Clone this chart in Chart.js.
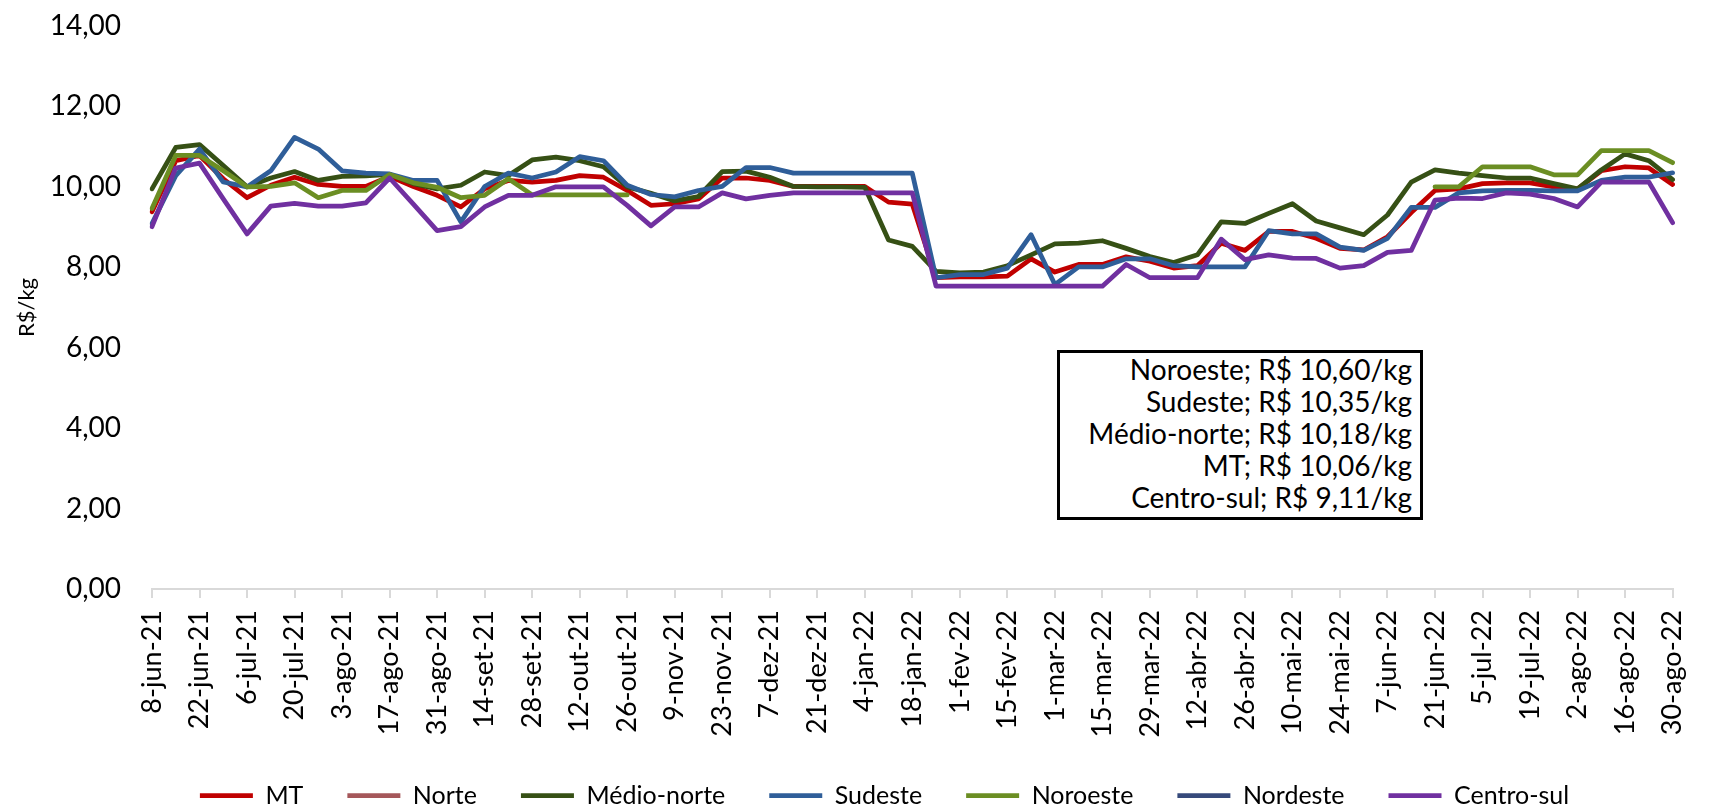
<!DOCTYPE html>
<html>
<head>
<meta charset="utf-8">
<script src="https://cdn.jsdelivr.net/npm/chart.js@4.4.1/dist/chart.umd.min.js"></script>
<style>
  body { margin: 0; background: #fff; }
  #wrap { position: relative; width: 1717px; height: 806px; }
  #note {
    position: absolute; left: 1057px; top: 350px; width: 366px; height: 170px;
    box-sizing: border-box; border: 3px solid #000; background: #fff;
    font-family: Lato, sans-serif; font-size: 28px; line-height: 32px;
    text-align: right; padding: 0 8px 0 0; color: #000; white-space: nowrap;
  }
</style>
</head>
<body>
<div id="wrap">
  <canvas id="chart" width="1717" height="806"></canvas>
  <div id="note">
    Noroeste; R$ 10,60/kg<br>
    Sudeste; R$ 10,35/kg<br>
    Médio-norte; R$ 10,18/kg<br>
    MT; R$ 10,06/kg<br>
    Centro-sul; R$ 9,11/kg
  </div>
</div>
<script>
// weekly prices, R$/kg
const labels = ['8-jun-21','15-jun-21','22-jun-21','29-jun-21','6-jul-21','13-jul-21','20-jul-21','27-jul-21','3-ago-21','10-ago-21',
  '17-ago-21','24-ago-21','31-ago-21','7-set-21','14-set-21','21-set-21','28-set-21','5-out-21','12-out-21','19-out-21',
  '26-out-21','2-nov-21','9-nov-21','16-nov-21','23-nov-21','30-nov-21','7-dez-21','14-dez-21','21-dez-21','28-dez-21',
  '4-jan-22','11-jan-22','18-jan-22','25-jan-22','1-fev-22','8-fev-22','15-fev-22','22-fev-22','1-mar-22','8-mar-22',
  '15-mar-22','22-mar-22','29-mar-22','5-abr-22','12-abr-22','19-abr-22','26-abr-22','3-mai-22','10-mai-22','17-mai-22',
  '24-mai-22','31-mai-22','7-jun-22','14-jun-22','21-jun-22','28-jun-22','5-jul-22','12-jul-22','19-jul-22','26-jul-22',
  '2-ago-22','9-ago-22','16-ago-22','23-ago-22','30-ago-22'];

const mt = [9.38,10.65,10.78,10.20,9.73,10.04,10.24,10.06,10.01,10.01,
  10.26,10.01,9.79,9.50,9.95,10.16,10.12,10.16,10.28,10.24,
  9.91,9.54,9.58,9.70,10.22,10.22,10.16,10.01,10.01,10.01,
  10.01,9.62,9.57,7.74,7.76,7.76,7.78,8.21,7.88,8.07,
  8.07,8.26,8.15,7.98,8.04,8.60,8.42,8.89,8.89,8.72,
  8.47,8.43,8.76,9.36,9.91,9.95,10.08,10.10,10.10,10.00,
  9.95,10.40,10.50,10.47,10.06];

const norte = [];

const medioNorte = [9.95,10.98,11.05,10.53,10.00,10.22,10.38,10.16,10.26,10.27,
  10.31,10.08,9.95,10.04,10.37,10.28,10.67,10.74,10.65,10.50,
  10.00,9.84,9.65,9.76,10.38,10.39,10.24,10.01,10.00,10.00,
  9.99,8.68,8.52,7.90,7.86,7.88,8.04,8.31,8.58,8.60,
  8.66,8.47,8.27,8.12,8.31,9.13,9.09,9.34,9.58,9.15,
  8.98,8.81,9.30,10.12,10.42,10.34,10.28,10.22,10.22,10.08,
  9.95,10.42,10.82,10.65,10.18];

const sudeste = [9.09,10.28,10.94,10.12,10.00,10.40,11.23,10.94,10.40,10.34,
  10.32,10.16,10.16,9.13,10.01,10.34,10.22,10.37,10.75,10.65,
  10.04,9.81,9.75,9.91,10.01,10.48,10.48,10.34,10.34,10.34,
  10.34,10.34,10.34,7.74,7.82,7.82,7.98,8.81,7.57,8.01,
  8.01,8.21,8.21,8.04,8.01,8.01,8.01,8.91,8.83,8.83,
  8.50,8.42,8.72,9.49,9.49,9.85,9.90,9.91,9.91,9.90,
  9.90,10.16,10.24,10.24,10.35];

const noroeste = [9.46,10.78,10.78,10.40,10.00,10.01,10.10,9.73,9.91,9.91,
  10.31,10.10,9.99,9.73,9.79,10.20,9.80,9.80,9.80,9.80,
  9.80,null,null,null,null,null,null,null,null,null,
  null,null,null,null,null,null,null,null,null,null,
  null,null,null,null,null,null,null,null,null,null,
  null,null,null,null,10.00,10.00,10.50,10.50,10.50,10.30,
  10.30,10.90,10.90,10.90,10.60];

const nordeste = [];

const centroSul = [9.01,10.47,10.59,9.70,8.83,9.52,9.59,9.52,9.52,9.60,
  10.22,9.57,8.91,9.01,9.50,9.79,9.79,10.00,10.00,10.00,
  9.54,9.03,9.50,9.50,9.85,9.70,9.79,9.85,9.85,9.85,
  9.85,9.85,9.85,7.53,7.53,7.53,7.53,7.53,7.53,7.53,
  7.53,8.07,7.74,7.74,7.74,8.70,8.19,8.31,8.23,8.22,
  7.98,8.04,8.37,8.42,9.67,9.72,9.71,9.85,9.82,9.71,
  9.50,10.12,10.12,10.12,9.11];

const seriesNames = ['MT', 'Norte', 'Médio-norte', 'Sudeste', 'Noroeste', 'Nordeste', 'Centro-sul'];
const seriesData = [mt, norte, medioNorte, sudeste, noroeste, nordeste, centroSul];
const seriesColors = ['#C00000', '#A5575A', '#365015', '#2F5E99', '#6B8E23', '#364A7B', '#7030A0'];

const FONT = 'Lato, sans-serif';

// excel draws later series on top
const datasets = seriesNames.map((name, i) => ({
  label: name,
  data: seriesData[i],
  borderColor: seriesColors[i],
  backgroundColor: seriesColors[i],
  borderWidth: 4.75,
  borderCapStyle: 'round',
  borderJoinStyle: 'round',
  pointRadius: 0,
  tension: 0,
  order: seriesNames.length - i
}));

// legend in the original sits a bit right of the canvas centre
const legendShift = {
  id: 'legendShift',
  afterLayout(chart) {
    chart.legend.left += 36;
    chart.legend.right += 36;
  }
};

new Chart(document.getElementById('chart'), {
  type: 'line',
  data: { labels: labels, datasets: datasets },
  plugins: [legendShift],
  options: {
    responsive: false,
    animation: false,
    devicePixelRatio: 1,
    layout: { padding: { top: 26, right: 20, left: 0, bottom: -12 } },
    plugins: {
      tooltip: { enabled: false },
      legend: {
        position: 'bottom',
        labels: {
          font: { family: FONT, size: 25 },
          color: '#000',
          usePointStyle: true,
          pointStyle: 'line',
          pointStyleWidth: 53,
          padding: 44,
          sort: (a, b) => a.datasetIndex - b.datasetIndex
        }
      }
    },
    scales: {
      x: {
        grid: {
          drawOnChartArea: false,
          drawTicks: true,
          tickLength: 9,
          lineWidth: 2,
          color: ctx => (ctx.index % 2 === 0 ? '#D9D9D9' : 'rgba(0,0,0,0)')
        },
        border: { color: '#D9D9D9', width: 2 },
        ticks: {
          autoSkip: false,
          maxRotation: 90,
          minRotation: 90,
          padding: 12,
          color: '#000',
          font: { family: FONT, size: 27 },
          callback: function (value, index) {
            return index % 2 === 0 ? this.getLabelForValue(value) : '';
          }
        },
        afterFit: scale => { scale.height = 150; }
      },
      y: {
        min: 0,
        max: 14,
        grid: {
          drawOnChartArea: false,
          drawTicks: true,
          tickLength: 27,
          color: 'rgba(0,0,0,0)'
        },
        border: { display: false },
        ticks: {
          stepSize: 2,
          padding: 4,
          color: '#000',
          font: { family: FONT, size: 28 },
          callback: v => v.toFixed(2).replace('.', ',')
        },
        title: {
          display: true,
          text: 'R$/kg',
          color: '#000',
          font: { family: FONT, size: 22 },
          padding: { top: 14, bottom: 0 }
        },
        afterFit: scale => { scale.width = 152; }
      }
    }
  }
});
</script>
</body>
</html>
